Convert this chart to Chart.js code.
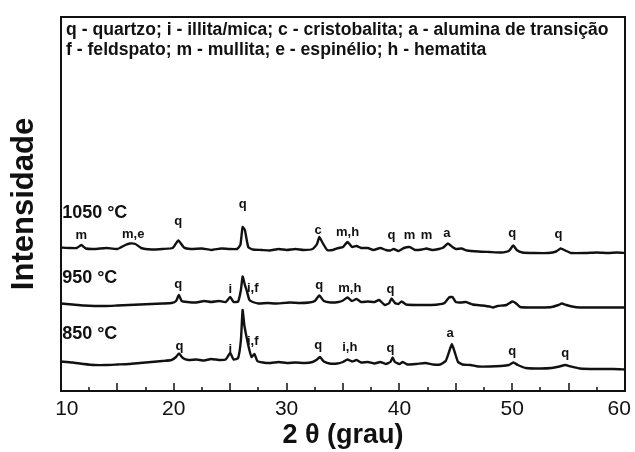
<!DOCTYPE html>
<html>
<head>
<meta charset="utf-8">
<script src="https://cdn.jsdelivr.net/npm/chart.js@4"></script>
<style>
  html, body { margin: 0; padding: 0; background: #fff; }
  #wrap { width: 635px; height: 452px; }
</style>
</head>
<body>
<div id="wrap"><canvas id="xrd"></canvas></div>
<script>
// 2θ axis
const thetaMin = 10;
const thetaMax = 60;
const thetaTicks = [10, 20, 30, 40, 50, 60];

// Diffractograms (stacked, arbitrary intensity)
const theta1050 = [10.0, 10.8, 11.4, 11.8, 12.2, 13.0, 14.0, 15.0, 15.7, 16.1, 16.6, 17.1, 18.0, 19.0, 19.9, 20.4, 20.9, 21.5, 22.5, 23.3, 24.2, 24.9, 25.6, 25.9, 26.1, 26.3, 26.6, 27.0, 27.8, 28.5, 29.3, 30.0, 30.8, 31.5, 32.3, 32.7, 32.9, 33.2, 33.6, 34.1, 34.6, 35.0, 35.4, 35.8, 36.2, 36.6, 37.2, 37.7, 38.3, 38.8, 39.2, 39.5, 39.9, 40.4, 40.9, 41.4, 42.0, 42.4, 42.9, 43.5, 43.9, 44.3, 44.7, 45.0, 45.5, 46.0, 47.0, 48.0, 49.0, 49.7, 50.1, 50.4, 50.9, 52.0, 53.2, 53.9, 54.3, 54.7, 55.2, 56.5, 57.5, 58.5, 59.3, 60.0];
const int1050 = [143.5, 143, 143, 146, 142.5, 142, 143, 142, 146, 147.5, 147, 143, 141.5, 142, 143, 150.5, 143.5, 142, 142.5, 141, 142.5, 142, 142, 146, 164, 161, 144, 141.5, 141, 140.5, 142, 141, 142, 141, 142, 147, 154, 148, 141, 141, 143, 144, 149, 144, 145, 143, 143, 141, 143, 141, 140.5, 142, 140, 143, 144, 141, 141.5, 142.5, 141, 142, 143.5, 147.5, 144, 142, 142.5, 140.5, 139.5, 139, 138.5, 140, 145.5, 141, 138.5, 138, 138, 139.5, 142.5, 140.5, 138, 138, 138.5, 138, 138.5, 138];

const theta950 = [10.0, 11.0, 12.0, 13.0, 14.0, 15.0, 16.0, 17.0, 18.0, 19.0, 19.8, 20.2, 20.45, 20.7, 21.2, 22.0, 22.7, 23.3, 24.0, 24.6, 25.0, 25.3, 25.7, 25.95, 26.1, 26.3, 26.45, 26.7, 27.0, 27.5, 28.3, 29.0, 29.7, 30.3, 31.2, 32.0, 32.5, 32.9, 33.3, 33.9, 34.6, 35.0, 35.4, 35.8, 36.2, 36.6, 37.2, 37.8, 38.2, 38.7, 39.1, 39.3, 39.6, 39.9, 40.2, 40.6, 41.5, 42.5, 43.4, 44.0, 44.4, 44.7, 45.0, 45.5, 45.9, 46.5, 47.3, 48.0, 48.3, 48.7, 49.5, 50.0, 50.3, 50.7, 51.5, 52.5, 53.5, 54.1, 54.4, 54.8, 55.3, 56.0, 57.5, 59.0, 60.0];
const int950 = [87.5, 86.5, 85.5, 85, 85, 85.5, 86, 86.5, 87, 87.5, 88, 90, 96, 90, 89, 88.5, 90, 89, 90, 89, 94, 89, 89.5, 101, 114.5, 106, 101, 91, 89, 87.5, 88, 87.5, 88, 88.5, 88, 88.5, 90, 95.5, 90, 88.5, 89, 90.5, 93.5, 90, 92, 89, 89.5, 89, 91, 86, 88, 92.5, 88, 87, 89.5, 86.5, 86, 86, 86.5, 88, 93.5, 94, 89, 88.5, 89, 86.5, 85.5, 84.5, 83.5, 85, 86, 89.5, 88, 84, 83.5, 83.5, 84, 86, 87.5, 86, 84.5, 83.5, 83.5, 83.5, 83.5];

const theta850 = [10.0, 11.0, 12.0, 13.0, 14.0, 15.0, 16.0, 17.0, 18.0, 19.0, 19.8, 20.2, 20.45, 20.8, 21.3, 22.0, 22.7, 23.3, 24.0, 24.6, 25.0, 25.3, 25.7, 25.95, 26.1, 26.25, 26.45, 26.7, 26.9, 27.15, 27.4, 27.9, 28.6, 29.3, 30.0, 30.8, 31.6, 32.3, 32.7, 32.95, 33.3, 33.8, 34.5, 35.0, 35.4, 35.8, 36.2, 36.6, 37.2, 37.8, 38.3, 38.8, 39.2, 39.4, 39.6, 40.0, 40.3, 40.7, 41.5, 42.3, 43.0, 43.6, 44.1, 44.4, 44.65, 44.9, 45.2, 45.6, 46.3, 47.0, 48.0, 49.0, 49.7, 50.1, 50.5, 51.2, 52.5, 53.5, 54.2, 54.7, 55.2, 56.0, 57.5, 59.0, 60.0];
const int850 = [29.5, 28.5, 27, 26, 26, 26.5, 27, 28, 29, 30, 31, 34, 37.5, 33, 31, 31.5, 30.5, 32, 31, 31.5, 38, 31.5, 33, 51, 81, 66, 54, 41, 34, 37, 30, 28.5, 28, 29, 28, 28.5, 28, 29, 31.5, 34, 29.5, 27.5, 27.5, 29, 31.5, 29.5, 31, 28.5, 29, 27.5, 29, 27, 29, 33.5, 29, 27, 29, 26.5, 27, 28, 26.5, 26.5, 30, 39, 47, 39, 29, 26.5, 26, 24.5, 24.5, 25, 26, 28.5, 26, 23, 22.5, 23, 24.5, 26, 24.5, 22.5, 22, 22, 21.5];

// Sample names and phase marks (text, 2θ, height on the same intensity scale)
const sampleNames = ['1050 °C', '950 °C', '850 °C'];
const sampleNameTheta = [10.1, 10.1, 10.1];
const sampleNameY = [178, 113, 57];

const marks1050 = ['m', 'm,e', 'q', 'q', 'c', 'm,h', 'q', 'm', 'm', 'a', 'q', 'q'];
const marks1050Theta = [11.8, 16.4, 20.4, 26.1, 32.8, 35.4, 39.3, 40.9, 42.4, 44.2, 50.0, 54.1];
const marks1050Y = [156, 156.5, 170, 187, 161, 159, 156, 156, 156, 157.5, 158, 157];

const marks950 = ['q', 'i', 'i,f', 'q', 'm,h', 'q'];
const marks950Theta = [20.4, 25.0, 27.0, 32.9, 35.6, 39.2];
const marks950Y = [107, 102, 103, 106, 103, 102];

const marks850 = ['q', 'i', 'i,f', 'q', 'i,h', 'q', 'a', 'q', 'q'];
const marks850Theta = [20.5, 25.0, 27.0, 32.8, 35.6, 39.2, 44.5, 50.0, 54.7];
const marks850Y = [45, 42, 50, 46, 44, 43, 58, 40, 38];

const legendLines = [
  'q - quartzo; i - illita/mica; c - cristobalita; a - alumina de transição',
  'f - feldspato; m - mullita; e - espinélio; h - hematita'
];

const FONT = "'Liberation Sans', Arial, sans-serif";
const INK = '#111';

function pairs(xs, ys) {
  return xs.map((x, i) => ({ x, y: ys[i] }));
}

function trace(label, xs, ys) {
  return {
    label,
    data: pairs(xs, ys),
    borderColor: INK,
    borderWidth: 2.4,
    pointRadius: 0,
    tension: 0.15,
    fill: false
  };
}

// box round the plot plus inward ticks every 2.5°
const frameTicks = {
  id: 'frameTicks',
  afterDraw(chart) {
    const { ctx, chartArea: a, scales: { x } } = chart;
    ctx.save();
    ctx.strokeStyle = INK;
    ctx.lineWidth = 2;
    ctx.strokeRect(a.left, a.top, a.right - a.left, a.bottom - a.top);
    ctx.lineWidth = 1.5;
    ctx.beginPath();
    for (let v = thetaMin + 2.5; v < thetaMax; v += 2.5) {
      const px = Math.round(x.getPixelForValue(v));
      const len = v % 5 === 0 ? 8 : 4;
      ctx.moveTo(px, a.bottom);
      ctx.lineTo(px, a.bottom - len);
    }
    ctx.stroke();
    ctx.restore();
  }
};

// phase letters, sample names and the key at the top
const phaseText = {
  id: 'phaseText',
  afterDatasetsDraw(chart) {
    const { ctx, chartArea: a, scales: { x, y } } = chart;
    ctx.save();
    ctx.fillStyle = INK;
    ctx.textBaseline = 'middle';

    ctx.textAlign = 'center';
    ctx.font = 'bold 13px ' + FONT;
    const groups = [
      [marks1050, marks1050Theta, marks1050Y],
      [marks950, marks950Theta, marks950Y],
      [marks850, marks850Theta, marks850Y]
    ];
    groups.forEach(([txt, th, yy]) => {
      txt.forEach((t, i) => ctx.fillText(t, x.getPixelForValue(th[i]), y.getPixelForValue(yy[i])));
    });

    ctx.textAlign = 'left';
    ctx.font = 'bold 18px ' + FONT;
    sampleNames.forEach((t, i) => {
      ctx.fillText(t, x.getPixelForValue(sampleNameTheta[i]), y.getPixelForValue(sampleNameY[i]));
    });

    ctx.font = 'bold 17.6px ' + FONT;
    legendLines.forEach((t, i) => ctx.fillText(t, a.left + 5, a.top + 13 + i * 20));
    ctx.restore();
  }
};

new Chart(document.getElementById('xrd'), {
  type: 'line',
  data: {
    datasets: [
      trace('1050 °C', theta1050, int1050),
      trace('950 °C', theta950, int950),
      trace('850 °C', theta850, int850)
    ]
  },
  options: {
    responsive: true,
    maintainAspectRatio: false,
    animation: false,
    layout: { padding: { top: 17, right: 10, left: 0, bottom: 0 } },
    plugins: {
      legend: { display: false },
      tooltip: { enabled: false }
    },
    scales: {
      x: {
        type: 'linear',
        min: thetaMin,
        max: thetaMax,
        afterBuildTicks: s => { s.ticks = thetaTicks.map(v => ({ value: v })); },
        afterFit: s => { s.height = 61; s.paddingLeft = 0; s.paddingRight = 0; },
        grid: { display: false, drawTicks: false },
        border: { display: false },
        ticks: {
          padding: 6,
          color: INK,
          font: { family: FONT, size: 21 },
          callback: v => v === thetaMin ? '  ' + v : (v === thetaMax ? v + '  ' : String(v))
        },
        title: {
          display: true,
          text: '2 θ (grau)',
          color: INK,
          font: { family: FONT, size: 27, weight: 'bold' },
          padding: { top: 0, bottom: 0 }
        }
      },
      y: {
        type: 'linear',
        min: 0,
        max: 374,
        afterFit: s => { s.width = 61; s.paddingTop = 0; s.paddingBottom = 0; },
        grid: { display: false, drawTicks: false },
        border: { display: false },
        ticks: { display: false },
        title: {
          display: true,
          text: 'Intensidade',
          color: INK,
          font: { family: FONT, size: 31, weight: 'bold' },
          padding: { top: 6, bottom: 0 }
        }
      }
    }
  },
  plugins: [frameTicks, phaseText]
});
</script>
</body>
</html>
